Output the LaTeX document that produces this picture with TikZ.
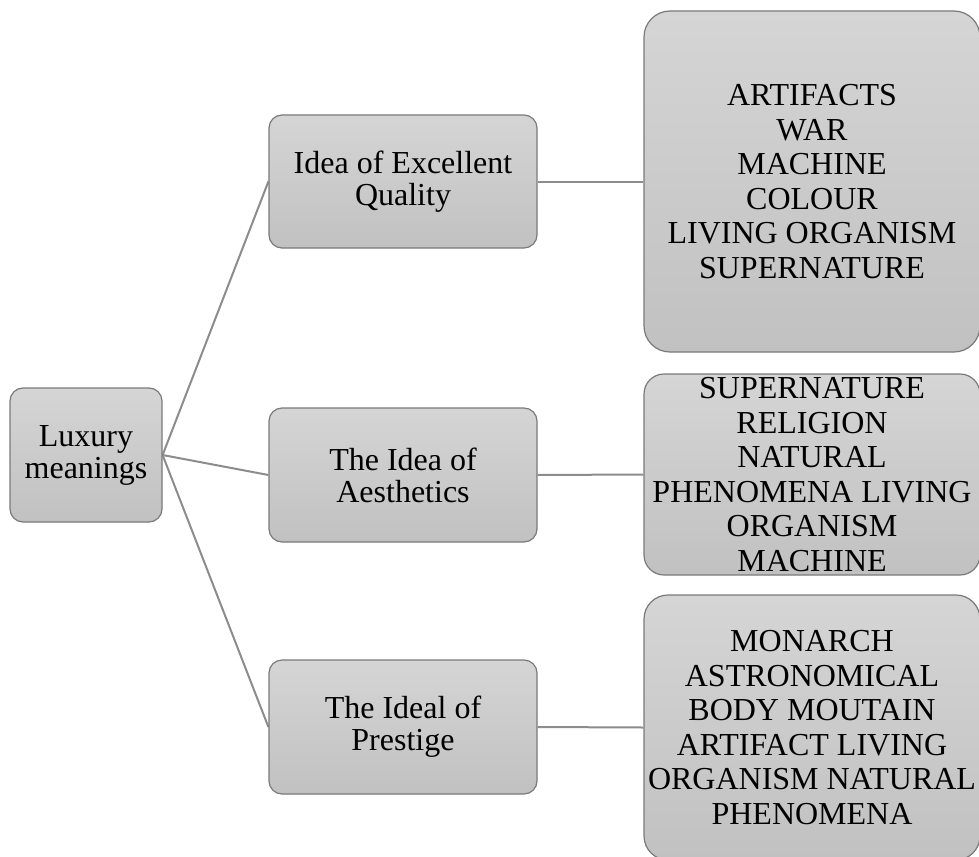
\documentclass[tikz,border=0pt]{standalone}
\usepackage{fontspec}
\setmainfont{Liberation Serif}
\usetikzlibrary{backgrounds}
\definecolor{boxtop}{HTML}{D5D5D5}
\definecolor{boxbottom}{HTML}{C1C1C1}
\definecolor{boxline}{HTML}{7A7A7A}
\definecolor{linkline}{HTML}{8C8C8C}
\tikzset{
  box/.style={draw=boxline, line width=1.2pt, top color=boxtop, bottom color=boxbottom,
    rounded corners=13pt, align=center, inner sep=0pt, text=black,
    font=\fontsize{32pt}{34.5pt}\selectfont},
  midbox/.style={box, minimum width=268pt, minimum height=133pt,
    font=\fontsize{32pt}{32pt}\selectfont},
  link/.style={draw=linkline, line width=2pt}
}
\begin{document}
\begin{tikzpicture}[x=1pt,y=-1pt]
\useasboundingbox (0,0) rectangle (979,856);
\clip (0,0) rectangle (979,856);

% root
\node[box, font=\fontsize{32pt}{32pt}\selectfont, minimum width=152pt, minimum height=134pt] (root) at (86,455) {Luxury\\meanings};

% middle level
\node[midbox] (q) at (403,181.5) {Idea of Excellent\\Quality};
\node[midbox, minimum height=134pt] (a) at (403,475) {The Idea of\\Aesthetics};
\node[midbox, minimum height=134pt] (p) at (403,727) {The Ideal of\\Prestige};

% right level
\node[box, rounded corners=26pt, minimum width=336pt, minimum height=341pt] (qr) at (812,181.5)
  {ARTIFACTS\\WAR\\MACHINE\\COLOUR\\LIVING ORGANISM\\SUPERNATURE};
\node[box, rounded corners=20pt, minimum width=336pt, minimum height=201pt] (ar) at (812,474.5)
  {SUPERNATURE\\RELIGION\\NATURAL\\PHENOMENA LIVING\\ORGANISM\\MACHINE};
\node[box, rounded corners=24pt, minimum width=336pt, minimum height=265pt] (pr) at (812,727.5)
  {MONARCH\\ASTRONOMICAL\\BODY MOUTAIN\\ARTIFACT LIVING\\ORGANISM NATURAL\\PHENOMENA};

\begin{scope}[on background layer]
  \draw[link] (root.east) -- (q.west);
  \draw[link] (root.east) -- (a.west);
  \draw[link] (root.east) -- (p.west);
  \draw[link] (q.east) -- (qr.west);
  \draw[link] (a.east) -- (ar.west);
  \draw[link] (p.east) -- (pr.west);
\end{scope}
\end{tikzpicture}
\end{document}
